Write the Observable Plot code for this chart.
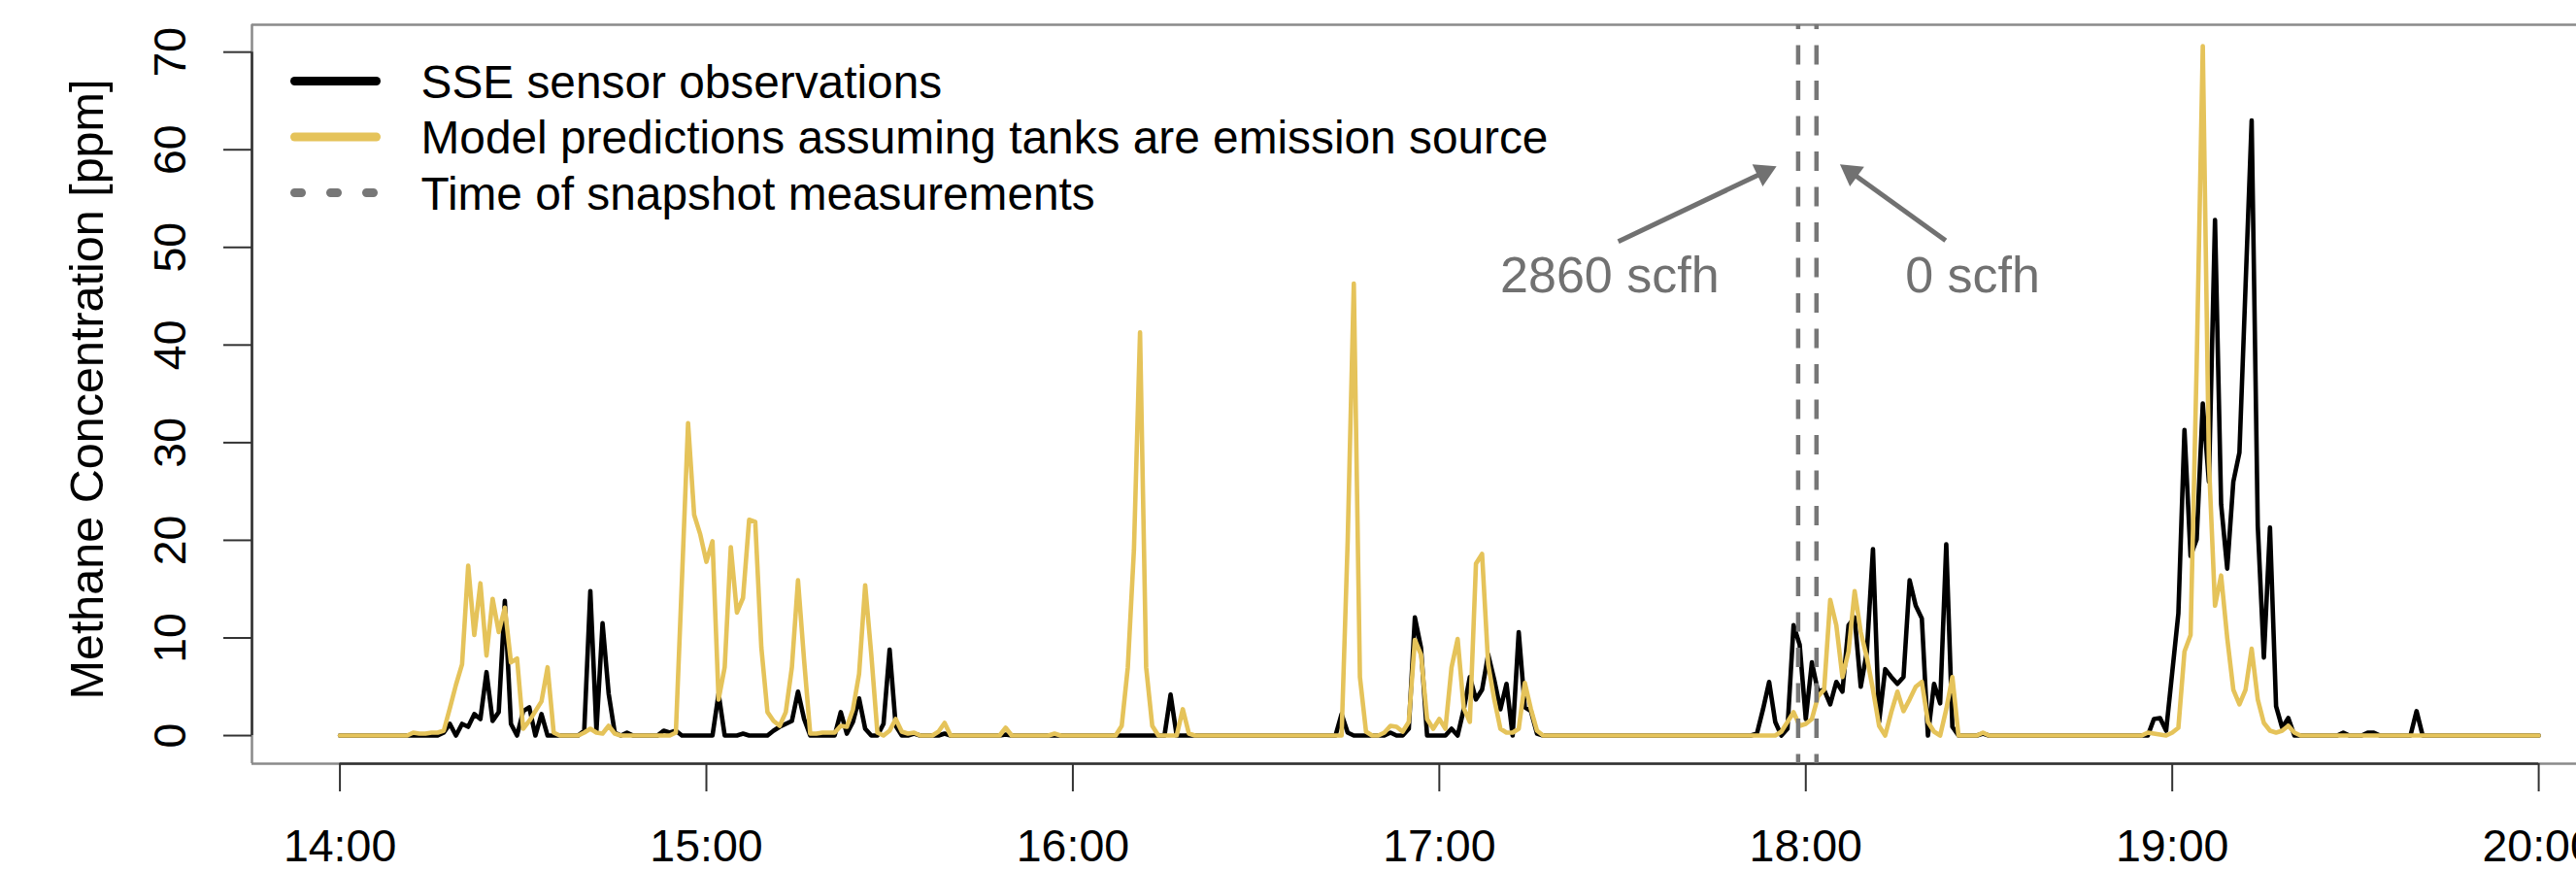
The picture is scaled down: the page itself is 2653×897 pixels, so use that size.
<!DOCTYPE html>
<html><head><meta charset="utf-8">
<script src="https://cdn.jsdelivr.net/npm/d3@7"></script>
<script src="https://cdn.jsdelivr.net/npm/@observablehq/plot@0.6"></script>
<style>html,body{margin:0;padding:0;background:#fff;} #chart svg{display:block;}</style>
</head><body><div id="chart"></div>
<script>
// One value per minute from 14:00 to 20:00 (361 values)
const obsPpm = [
  0,0,0,0,0,0,0,0,0,0, 0,0,0,0,0,0,0,0.3,1.2,0, 1.2,0.9,2.2,1.7,6.5,1.5,2.4,13.8,1.2,0,
  2.5,2.9,0,2.2,0,0,0,0,0,0, 0.5,14.8,0.5,11.5,4.3,0.3,0,0.3,0,0, 0,0,0,0.5,0.3,0.5,0,0,0,0,
  0,0,4.3,0,0,0,0.2,0,0,0, 0,0.5,0.9,1.2,1.5,4.5,1.7,0,0,0, 0,0,2.4,0.2,1.4,3.8,0.7,0,0,1.2,
  8.8,1.0,0,0,0.2,0,0,0,0,0.2, 0,0,0,0,0,0,0,0,0,0.1, 0,0,0,0,0,0,0,0,0,0,
  0,0,0,0,0,0,0,0,0,0, 0,0,0,0,0,0,4.2,0,0,0, 0,0,0,0,0,0,0,0,0,0,
  0,0,0,0,0,0,0,0,0,0, 0,0,0,0,2.2,0.3,0,0,0,0, 0,0,0.3,0,0,0.7,12.1,9.0,0,0,
  0,0,0.7,0,2.7,6.0,3.7,4.7,8.3,5.7, 2.7,5.3,0,10.6,2.9,2.5,0.2,0,0,0, 0,0,0,0,0,0,0,0,0,0,
  0,0,0,0,0,0,0,0,0,0, 0,0,0,0,0,0,0,0,0,0, 0,0,0.2,2.7,5.5,1.4,0,0.7,11.3,9.3,
  1.7,7.5,4.5,4.7,3.2,5.5,4.5,11.3,12.1,5.0, 8.6,19.1,1.4,6.8,6.0,5.3,6.0,15.9,13.3,12.0, 0,5.3,3.3,19.6,0.9,0,0,0,0,0.2,
  0,0,0,0,0,0,0,0,0,0, 0,0,0,0,0,0,0,0,0,0, 0,0,0,0,0,0,0,1.7,1.8,0.5,
  6.5,12.5,31.3,18.4,20.1,34.0,26.0,52.8,23.7,17.1, 26.0,29.0,46,63.0,21.5,8.0,21.3,3.0,0.8,1.8, 0,0,0,0,0,0,0,0,0.3,0,
  0,0,0.3,0.3,0,0,0,0,0,0, 2.5,0,0,0,0,0,0,0,0,0, 0,0,0,0,0,0,0,0,0,0,
  0
];
const modelPpm = [
  0,0,0,0,0,0,0,0,0,0, 0,0,0.3,0.2,0.2,0.3,0.3,0.5,2.8,5.2, 7.3,17.4,10.3,15.6,8.2,14.0,10.6,13.1,7.5,7.9,
  0.7,1.5,2.5,3.5,7.0,0.3,0,0,0,0, 0.3,0.7,0.3,0.2,1.0,0.2,0,0,0,0, 0,0,0,0,0,0.3,16,32.0,22.6,20.6,
  17.8,19.9,3.7,7.0,19.3,12.6,14.1,22.1,21.9,9.0, 2.4,1.5,1.0,2.4,7.0,15.9,7.7,0.2,0.2,0.3, 0.3,0.3,1.0,0.9,2.7,6.3,15.4,8.3,0.3,0,
  0.5,1.7,0.4,0.2,0.3,0,0,0,0.4,1.3, 0,0,0,0,0,0,0,0,0,0.8, 0,0,0,0,0,0,0,0.2,0,0,
  0,0,0,0,0,0,0,0,1.0,7, 19,41.3,7,1,0,0,0,0,2.7,0.2, 0,0,0,0,0,0,0,0,0,0,
  0,0,0,0,0,0,0,0,0,0, 0,0,0,0,0,20,46.3,6,0.4,0, 0,0.3,1.0,0.9,0.4,1.4,9.8,8.3,1.7,0.7,
  1.7,0.7,7.0,9.9,2.8,1.4,17.6,18.6,7.3,3.7, 0.7,0.3,0.3,0.7,5.4,2.7,0.5,0,0,0, 0,0,0,0,0,0,0,0,0,0,
  0,0,0,0,0,0,0,0,0,0, 0,0,0,0,0,0,0,0,0,0, 0,0,0,0,0,0,0.4,1.4,2.4,1.0,
  1.2,1.7,4.0,4.7,13.9,11.3,6.0,8.6,14.8,10.6, 8.0,4.7,1.0,0,2.4,4.5,2.5,3.7,5.0,5.5, 1.4,0.4,0,2.7,6.0,0,0,0,0,0.3,
  0,0,0,0,0,0,0,0,0,0, 0,0,0,0,0,0,0,0,0,0, 0,0,0,0,0,0,0.3,0.2,0.1,0,
  0.3,0.8,8.6,10.3,38,70.6,28,13.3,16.4,10, 4.7,3.2,4.7,8.9,3.7,1.3,0.5,0.3,0.5,1.0, 0.3,0,0,0,0,0,0,0,0,0,
  0,0,0,0,0,0,0,0,0,0, 0,0,0,0,0,0,0,0,0,0, 0,0,0,0,0,0,0,0,0,0,
  0
];
const startTime = "14:00:00";
const xTickLabels = ["14:00","15:00","16:00","17:00","18:00","19:00","20:00"];
const yTicks = [0,10,20,30,40,50,60,70];
const snapshotTimes = ["17:58:45","18:01:45"];
const snapshotLabels = ["2860 scfh","0 scfh"];
const labelTimes = ["17:27:54","18:27:18"];
const labelPpm = [47.1, 47.1];
const arrowFromTimes = ["17:29:18","18:22:54"];
const arrowFromPpm = [50.6, 50.7];
const arrowToTimes = ["17:55:12","18:05:36"];
const arrowToPpm = [58.3, 58.5];
const legendLabels = ["SSE sensor observations","Model predictions assuming tanks are emission source","Time of snapshot measurements"];
const yTitle = "Methane Concentration [ppm]";

const T = s => { const [h,m,sec] = s.split(":").map(Number); return new Date(Date.UTC(2020,0,1,h,m,sec||0)); };
const t0 = T(startTime).getTime();
const obsData = obsPpm.map((v,i) => ({time: new Date(t0 + i*60000), value: v}));
const modelData = modelPpm.map((v,i) => ({time: new Date(t0 + i*60000), value: v}));
const xTicks = xTickLabels.map(s => T(s + ":00"));

const W = 2653, H = 897, ML = 259, MR = 0, MT = 25, MB = 111;
const xDomain = [T("13:45:36"), T("20:06:11")];
const yDomain = [-2.88, 72.8];
const sx = d3.scaleUtc(xDomain, [ML, W - MR]);
const sy = d3.scaleLinear(yDomain, [H - MB, MT]);

const BLACK = "#000000", YELLOW = "#E5C35A", DASHGREY = "#777777", ANNOGREY = "#717171", BOXGREY = "#8a8a8a", AXIS = "#333333";
const FONT = "'Liberation Sans', Arial, Helvetica, sans-serif";

const arrows = arrowFromTimes.map((f, i) => {
  const x1 = sx(T(f)), y1 = sy(arrowFromPpm[i]);
  const x2 = sx(T(arrowToTimes[i])), y2 = sy(arrowToPpm[i]);
  const len = Math.hypot(x2 - x1, y2 - y1), ux = (x2 - x1) / len, uy = (y2 - y1) / len;
  const cx = x2 - 14.4 * ux, cy = y2 - 14.4 * uy;
  return {x1: T(f), y1: arrowFromPpm[i], xe: sx.invert(cx), ye: sy.invert(cy), angle: Math.atan2(uy, ux) * 180 / Math.PI + 90};
});
const labels = snapshotLabels.map((s, i) => ({label: s, time: T(labelTimes[i]), ppm: labelPpm[i]}));

const rowY = i => 83 + i * 57.5;
const legendRows = legendLabels.map((label, i) => ({label, i, xa: sx.invert(303), xb: sx.invert(387), xt: sx.invert(433), y: sy.invert(rowY(i)), yt: sy.invert(rowY(i) + 2)}));

const marks = [
  Plot.ruleY([yDomain[1]], {stroke: BOXGREY, strokeWidth: 2.5}),
  Plot.ruleY([yDomain[0]], {stroke: BOXGREY, strokeWidth: 2.5}),
  Plot.ruleX([xDomain[0]], {stroke: BOXGREY, strokeWidth: 2.5}),
  Plot.ruleY([yDomain[0]], {x1: () => xTicks[0], x2: () => xTicks[xTicks.length - 1], stroke: AXIS, strokeWidth: 2.5}),
  Plot.ruleX([xDomain[0]], {y1: () => yTicks[0], y2: () => yTicks[yTicks.length - 1], stroke: AXIS, strokeWidth: 2.5}),
  Plot.ruleX(xTicks, {x: d => d, y1: () => yDomain[0], y2: () => sy.invert(H - MB + 29), stroke: AXIS, strokeWidth: 2}),
  Plot.ruleY(yTicks, {y: d => d, x1: () => sx.invert(ML - 29), x2: () => xDomain[0], stroke: AXIS, strokeWidth: 2}),
  Plot.text(xTicks, {x: d => d, frameAnchor: "bottom", dy: 86, text: (d, i) => xTickLabels[i], fontSize: 46.5, lineAnchor: "middle", fill: BLACK}),
  Plot.text(yTicks, {y: d => d, frameAnchor: "left", dx: -83, rotate: -90, text: d => String(d), fontSize: 46.5, lineAnchor: "middle", textAnchor: "middle", fill: BLACK}),
  Plot.text([yTitle], {frameAnchor: "left", dx: 90 - ML, dy: -5, rotate: -90, text: d => d, fontSize: 48.5, lineAnchor: "middle", textAnchor: "middle", fill: BLACK}),
  Plot.line(obsData, {x: "time", y: "value", stroke: BLACK, strokeWidth: 4.6}),
  Plot.line(modelData, {x: "time", y: "value", stroke: YELLOW, strokeWidth: 4.6}),
  Plot.ruleX(snapshotTimes.map(T), {x: d => d, stroke: DASHGREY, strokeWidth: 4.5, strokeDasharray: "20 16.5", strokeDashoffset: 15}),
  Plot.link(arrows, {x1: "x1", y1: "y1", x2: "xe", y2: "ye", stroke: ANNOGREY, strokeWidth: 5, strokeLinecap: "butt"}),
  Plot.dot(arrows, {x: "xe", y: "ye", symbol: "triangle", r: 9.3, fill: ANNOGREY, stroke: "none", rotate: "angle"}),
  Plot.text(labels, {x: "time", y: "ppm", text: "label", fill: ANNOGREY, fontSize: 52, lineAnchor: "middle"}),
  Plot.link(legendRows.filter(d => d.i === 0), {x1: "xa", x2: "xb", y1: "y", y2: "y", stroke: BLACK, strokeWidth: 9, strokeLinecap: "round"}),
  Plot.link(legendRows.filter(d => d.i === 1), {x1: "xa", x2: "xb", y1: "y", y2: "y", stroke: YELLOW, strokeWidth: 9, strokeLinecap: "round"}),
  Plot.link(legendRows.filter(d => d.i === 2), {x1: "xa", x2: "xb", y1: "y", y2: "y", stroke: DASHGREY, strokeWidth: 9, strokeLinecap: "round", strokeDasharray: "7 30"}),
  Plot.text(legendRows, {x: "xt", y: "yt", text: "label", textAnchor: "start", lineAnchor: "middle", fontSize: 47.8, fill: BLACK})
];

const chart = Plot.plot({
  width: W, height: H,
  marginLeft: ML, marginRight: MR, marginTop: MT, marginBottom: MB,
  x: {type: "utc", domain: xDomain, axis: null},
  y: {domain: yDomain, axis: null},
  style: {fontFamily: FONT, background: "white", color: "black"},
  marks
});
document.getElementById("chart").appendChild(chart);
</script>
</body></html>
